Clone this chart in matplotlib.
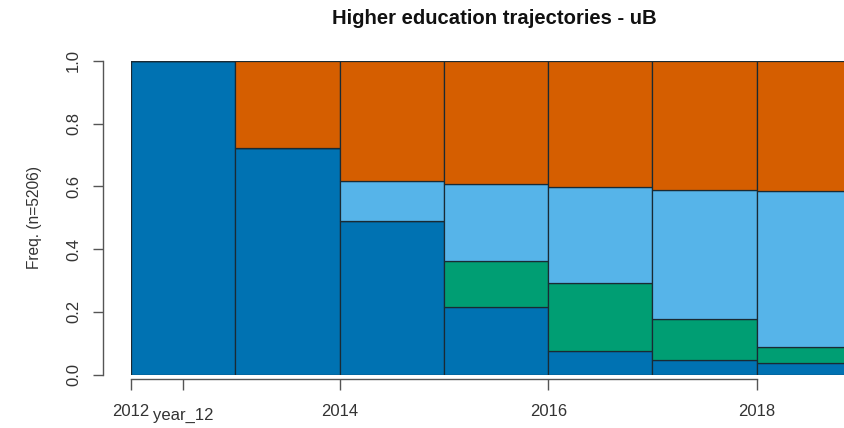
import matplotlib
matplotlib.use("Agg")
import matplotlib.pyplot as plt
from matplotlib.transforms import ScaledTranslation
import numpy as np

plt.rcParams['font.family'] = ['Liberation Sans', 'DejaVu Sans']

years = [2012, 2013, 2014, 2015, 2016, 2017, 2018]
states = ["state1", "state2", "state3", "state4"]
colors = ["#0072B2", "#009E73", "#56B4E9", "#D55E00"]
# proportions per year (bottom to top)
s1 = [1.000, 0.722, 0.490, 0.216, 0.076, 0.046, 0.036]
s2 = [0.000, 0.000, 0.000, 0.145, 0.217, 0.132, 0.052]
s3 = [0.000, 0.000, 0.128, 0.246, 0.304, 0.412, 0.497]
s4 = [0.000, 0.278, 0.382, 0.393, 0.403, 0.410, 0.415]
tick_pos = [2012, 2012.5, 2014, 2016, 2018]
tick_labels = ["2012", "year_12", "2014", "2016", "2018"]

W, H = 845, 428
PT = 72 / 100  # points per pixel
fig = plt.figure(figsize=(W/100, H/100), dpi=100)
x0, x1 = 131, 845
y0, y1 = 374.5, 61
ax = fig.add_axes([x0/W, 1 - y0/H, (x1 - x0)/W, (y0 - y1)/H])

bottom = np.zeros(len(years))
for vals, c in zip([s1, s2, s3, s4], colors):
    v = np.array(vals)
    ax.bar(years, v, width=1.0, align='edge', bottom=bottom, color=c,
           edgecolor='#1a2a33', linewidth=0.9)
    bottom += v

px_per_year = 104.3
ax.set_xlim(2012, 2012 + (x1 - x0) / px_per_year)
ax.set_ylim(0, 1)

for s in ['top', 'right']:
    ax.spines[s].set_visible(False)
ax.spines['left'].set_position(('outward', 28 * PT))
ax.spines['left'].set_bounds(0, 1)
ax.spines['bottom'].set_position(('outward', 4.5 * PT))
ax.spines['bottom'].set_bounds(2012, 2018)
for s in ['left', 'bottom']:
    ax.spines[s].set_color('#555555')
    ax.spines[s].set_linewidth(1.0)

ax.set_yticks([0, 0.2, 0.4, 0.6, 0.8, 1.0])
ax.set_yticklabels(["0.0", "0.2", "0.4", "0.6", "0.8", "1.0"], rotation=90,
                   va='center', fontsize=12, color='#333333')
ax.set_xticks(tick_pos)
ax.set_xticklabels(tick_labels, fontsize=12, color='#333333')
ax.tick_params(axis='y', length=10 * PT, width=1.0, color='#555555', pad=12 * PT)
ax.tick_params(axis='x', length=11 * PT, width=1.0, color='#555555', pad=14 * PT)
for lab in ax.get_xticklabels():
    if lab.get_text() == "year_12":
        lab.set_transform(lab.get_transform() + ScaledTranslation(0, -4/100, fig.dpi_scale_trans))

ax.set_ylabel("Freq. (n=5206)", fontsize=11.2, color='#333333', va='center')
ax.yaxis.set_label_coords((34 - x0) / (x1 - x0), 0.5)

fig.text(494/W, 1 - 18/H, "Higher education trajectories - uB", ha='center',
         va='center', fontsize=14.6, fontweight='bold', color='#111111')

fig.savefig("out.png", dpi=100)
